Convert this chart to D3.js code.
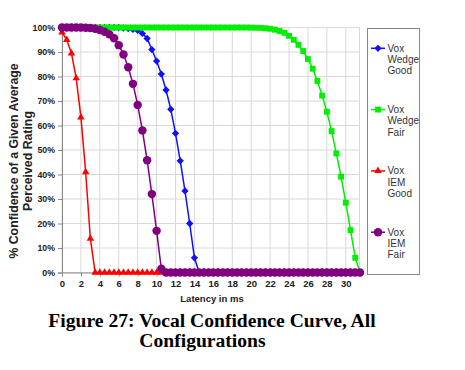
<!DOCTYPE html>
<html><head><meta charset="utf-8">
<script src="https://cdn.jsdelivr.net/npm/d3@7/dist/d3.min.js"></script>
<style>html,body{margin:0;padding:0;background:#fff;}svg{display:block;}</style>
</head><body>
<script>
// Latency (ms) sampled every 0.5 ms
const latency = [0,0.5,1,1.5,2,2.5,3,3.5,4,4.5,5,5.5,6,6.5,7,7.5,8,8.5,9,9.5,10,10.5,11,11.5,12,12.5,13,13.5,14,14.5,15,15.5,16,16.5,17,17.5,18,18.5,19,19.5,20,20.5,21,21.5,22,22.5,23,23.5,24,24.5,25,25.5,26,26.5,27,27.5,28,28.5,29,29.5,30,30.5,31,31.5];
const voxWedgeGood = [100,100,100,100,100,100,100,100,100,100,100,100,100,99.8,99.6,99.2,98.8,97.6,95.5,91,86.3,81,74.5,66.6,56.8,45.6,33.3,20,6,0,0,0,0,0,0,0,0,0,0,0,0,0,0,0,0,0,0,0,0,0,0,0,0,0,0,0,0,0,0,0,0,0,0,0];
const voxWedgeFair = [100,100,100,100,100,100,100,100,100,100,100,100,100,100,100,100,100,100,100,100,100,100,100,100,100,100,100,100,100,100,100,100,100,100,100,100,100,100,100,100,99.95,99.9,99.85,99.7,99.5,99.1,98.6,97.8,96.6,95,92.9,90.4,87.1,83.2,78.2,72.2,65.6,57.7,48.6,39.1,28.5,17.3,6,0];
const voxIemGood = [98,95,89.5,79.3,63.3,41,13.8,0,0,0,0,0,0,0,0,0,0,0,0,0,0,0,0,0,0,0,0,0,0,0,0,0,0,0,0,0,0,0,0,0,0,0,0,0,0,0,0,0,0,0,0,0,0,0,0,0,0,0,0,0,0,0,0,0];
const voxIemFair = [100,100,100,100,100,99.9,99.8,99.5,99,98.3,97.2,95.6,92.8,89,83.8,77,68.4,58,45.8,32,17,1.5,0,0,0,0,0,0,0,0,0,0,0,0,0,0,0,0,0,0,0,0,0,0,0,0,0,0,0,0,0,0,0,0,0,0,0,0,0,0,0,0,0,0];
const seriesNames = ["Vox\nWedge\nGood","Vox\nWedge\nFair","Vox\nIEM\nGood","Vox\nIEM\nFair"];
const xTicks = [0,2,4,6,8,10,12,14,16,18,20,22,24,26,28,30];
const yTicks = [0,10,20,30,40,50,60,70,80,90,100];

const W = 465, H = 370;
const svg = d3.select("body").append("svg").attr("width", W).attr("height", H);

const x = d3.scaleLinear().domain([0, 31.45]).range([62, 359.5]);
const y = d3.scaleLinear().domain([0, 100]).range([272.5, 27.5]);

const gridColor = "#d8d8d8";
// gridlines
svg.append("g").selectAll("line").data(yTicks).join("line")
  .attr("x1", x(0)).attr("x2", x.range()[1]).attr("y1", d => y(d)).attr("y2", d => y(d))
  .attr("stroke", gridColor).attr("stroke-width", 1);
svg.append("g").selectAll("line").data(xTicks.concat([31.45])).join("line")
  .attr("y1", y(0)).attr("y2", y(100)).attr("x1", d => x(d)).attr("x2", d => x(d))
  .attr("stroke", gridColor).attr("stroke-width", 1);

// axes
const yAxis = d3.axisLeft(y).tickValues(yTicks).tickFormat(d => d + "%").tickSize(4).tickPadding(3);
const gy = svg.append("g").attr("transform", `translate(${x(0)},0)`).call(yAxis);
gy.select(".domain").attr("stroke", "#888");
gy.selectAll(".tick line").attr("stroke", "#888");
gy.selectAll("text").attr("font-family", "Arial, 'Liberation Sans', sans-serif")
  .attr("font-size", 8.8).attr("font-weight", "bold").attr("fill", "#222");

const xAxis = d3.axisBottom(x).tickValues(xTicks).tickFormat(d3.format("d")).tickSize(4).tickPadding(4);
const gx = svg.append("g").attr("transform", `translate(0,${y(0)})`).call(xAxis);
gx.select(".domain").attr("stroke", "#888");
gx.selectAll(".tick line").attr("stroke", "#888");
gx.selectAll("text").attr("font-family", "Arial, 'Liberation Sans', sans-serif")
  .attr("font-size", 9.5).attr("font-weight", "bold").attr("fill", "#222");

// axis titles
svg.append("text").attr("x", 212).attr("y", 301.5).attr("text-anchor", "middle")
  .attr("font-family", "Arial, 'Liberation Sans', sans-serif").attr("font-size", 9.5)
  .attr("font-weight", "bold").attr("fill", "#222").text("Latency in ms");
const yt = svg.append("text").attr("transform", "translate(0,161) rotate(-90)")
  .attr("text-anchor", "middle").attr("font-family", "Arial, 'Liberation Sans', sans-serif")
  .attr("font-size", 12.3).attr("font-weight", "bold").attr("fill", "#222");
yt.append("tspan").attr("x", 0).attr("y", 17.5).text("% Confidence of a Given Average");
yt.append("tspan").attr("x", 0).attr("y", 32).text("Perceived Rating");

// series
const colors = ["#1010ff", "#00ee00", "#ff0000", "#800080"];
const symbols = [d3.symbolDiamond2, d3.symbolSquare2, d3.symbolTriangle2, d3.symbolCircle];
const sizes = [34, 44, 40, 56];
const allSeries = [voxWedgeGood, voxWedgeFair, voxIemGood, voxIemFair];
const line = d3.line().x((d, i) => x(latency[i])).y(d => y(d));

allSeries.forEach((vals, si) => {
  const g = svg.append("g");
  g.append("path").datum(vals).attr("d", line).attr("fill", "none")
    .attr("stroke", colors[si]).attr("stroke-width", 1.5);
  g.selectAll("path.m").data(vals).join("path").attr("class", "m")
    .attr("transform", (d, i) => `translate(${x(latency[i])},${y(d)})`)
    .attr("d", d3.symbol().type(symbols[si]).size(sizes[si]))
    .attr("fill", colors[si]).attr("stroke", "none");
});

// legend
svg.append("rect").attr("x", 367.5).attr("y", 28.5).attr("width", 52).attr("height", 246)
  .attr("fill", "#fff").attr("stroke", "#888").attr("stroke-width", 1);
seriesNames.forEach((name, si) => {
  const cy = 48.3 + si * 61.3;
  svg.append("line").attr("x1", 371).attr("x2", 385).attr("y1", cy).attr("y2", cy)
    .attr("stroke", colors[si]).attr("stroke-width", 1.5);
  svg.append("path").attr("transform", `translate(378,${cy})`)
    .attr("d", d3.symbol().type(symbols[si]).size(sizes[si]))
    .attr("fill", colors[si]);
  const t = svg.append("text").attr("font-family", "Arial, 'Liberation Sans', sans-serif")
    .attr("font-size", 10).attr("fill", "#333");
  name.split("\n").forEach((ln, k) => {
    t.append("tspan").attr("x", 387.5).attr("y", cy + 3.5 + k * 11.2).text(ln);
  });
});

// caption
const cap = svg.append("g").attr("font-family", "'Times New Roman', 'Liberation Serif', serif")
  .attr("font-weight", "bold").attr("font-size", 19.6).attr("fill", "#000").attr("text-anchor", "middle");
cap.append("text").attr("x", 212).attr("y", 327).text("Figure 27: Vocal Confidence Curve, All");
cap.append("text").attr("x", 202.5).attr("y", 347).text("Configurations");
</script>
</body></html>
